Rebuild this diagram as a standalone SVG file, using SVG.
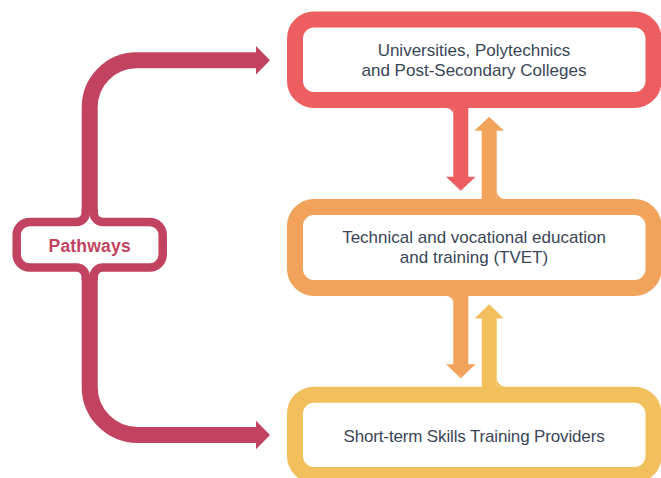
<svg xmlns="http://www.w3.org/2000/svg" width="661" height="478" viewBox="0 0 661 478">
  <style>
    .box { fill: #ffffff; stroke-width: 16; }
    .label { font-family: "Liberation Sans", Arial, sans-serif; font-size: 17px; fill: #3a4557; text-anchor: middle; }
    .path-line { fill: none; stroke: #c1435f; stroke-width: 16; }
    .brace { fill: none; stroke: #c1435f; stroke-width: 8.5; }
    .red { stroke: #ec5e5f; }
    .orange { stroke: #f2a35b; }
    .yellow { stroke: #f2bf5d; }
  </style>

  <!-- Provider boxes -->
  <g id="universities">
    <rect class="box red" x="295" y="19.5" width="358.5" height="80.5" rx="19"/>
    <text class="label" x="474" y="56">Universities, Polytechnics</text>
    <text class="label" x="474" y="76">and Post-Secondary Colleges</text>
  </g>

  <g id="tvet">
    <rect class="box orange" x="295" y="207" width="358.5" height="81" rx="19"/>
    <text class="label" x="474" y="243">Technical and vocational education</text>
    <text class="label" x="474" y="263">and training (TVET)</text>
  </g>

  <g id="short-term">
    <rect class="box yellow" x="295" y="394.7" width="358.5" height="80.3" rx="19"/>
    <text class="label" x="474" y="441.7" letter-spacing="-0.15">Short-term Skills Training Providers</text>
  </g>

  <!-- Brace-shaped label box -->
  <g id="pathways">
    <path class="brace" d="M85.7 209 V213 A9 9 0 0 1 76.7 222 H29.7 A13 13 0 0 0 16.7 235 V254.5 A13 13 0 0 0 29.7 267.5 H76.7 A9 9 0 0 1 85.7 276.5 V280"/>
    <path class="brace" d="M93.7 209 V213 A9 9 0 0 0 102.7 222 H149.7 A13 13 0 0 1 162.7 235 V254.5 A13 13 0 0 1 149.7 267.5 H102.7 A9 9 0 0 0 93.7 276.5 V280"/>
    <text x="89.7" y="252" font-family="'Liberation Sans', Arial, sans-serif" font-weight="bold" font-size="17.5" letter-spacing="0.2" fill="#c1435f" text-anchor="middle">Pathways</text>
  </g>

  <!-- Connectors -->
  <g id="connectors">
    <!-- Pathways to the top and bottom providers -->
    <path class="path-line" d="M89.7 211.5 V107.3 A47 47 0 0 1 136.7 60.3 H257"/>
    <polygon fill="#c1435f" points="256,46 270,60.3 256,74.6"/>
    <path class="path-line" d="M89.7 278 V387 A48 48 0 0 0 137.7 435 H257"/>
    <polygon fill="#c1435f" points="256,420.8 270,435 256,449.2"/>

    <!-- Universities to TVET (down) -->
    <rect x="453.3" y="106" width="15" height="71.7" fill="#ec5e5f"/>
    <path d="M446.3 108 A7 7 0 0 1 453.3 115 V108 Z" fill="#ec5e5f"/>
    <polygon fill="#ec5e5f" points="446,176.7 475.6,176.7 460.8,190.7"/>

    <!-- TVET to Universities (up) -->
    <rect x="481.7" y="129.7" width="15" height="71" fill="#f2a35b"/>
    <path d="M496.7 190.3 A9 9 0 0 0 505.7 199.3 H496.7 Z" fill="#f2a35b"/>
    <polygon fill="#f2a35b" points="474.5,130.7 503.9,130.7 489.2,116.7"/>

    <!-- TVET to short-term providers (down) -->
    <rect x="453.3" y="294" width="15" height="71.3" fill="#f2a35b"/>
    <path d="M446.3 296 A7 7 0 0 1 453.3 303 V296 Z" fill="#f2a35b"/>
    <polygon fill="#f2a35b" points="446,364.3 475.6,364.3 460.8,378.3"/>

    <!-- Short-term providers to TVET (up) -->
    <rect x="481.7" y="317.5" width="15" height="71" fill="#f2bf5d"/>
    <path d="M496.7 377.7 A9 9 0 0 0 505.7 386.7 H496.7 Z" fill="#f2bf5d"/>
    <polygon fill="#f2bf5d" points="474.5,318.5 503.9,318.5 489.2,304.3"/>
  </g>
</svg>
